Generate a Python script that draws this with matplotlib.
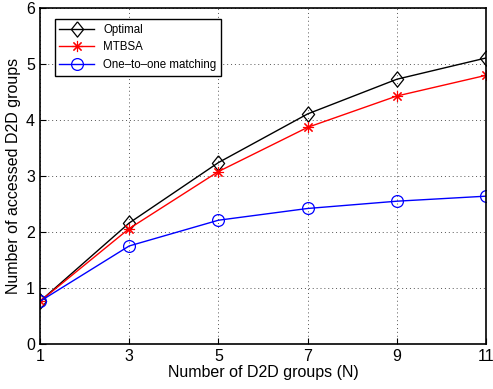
import matplotlib
matplotlib.use("Agg")
import matplotlib.pyplot as plt

plt.rcParams['font.family'] = ['Liberation Sans', 'DejaVu Sans']

groups = [1, 3, 5, 7, 9, 11]
optimal = [0.76, 2.16, 3.24, 4.11, 4.73, 5.11]
mtbsa = [0.76, 2.06, 3.08, 3.87, 4.43, 4.80]
one_to_one = [0.76, 1.75, 2.21, 2.42, 2.55, 2.64]

# matlab style markers
diamond = [(0, 1), (0.8, 0), (0, -1), (-0.8, 0), (0, 1)]
asterisk = (8, 2, 0)

fig = plt.figure(figsize=(4.93, 3.89), dpi=100)
ax = fig.add_axes([0.081, 0.116, 0.905, 0.863])

ax.plot(groups, optimal, color='black', marker=diamond, markersize=11, markerfacecolor='none',
        markeredgewidth=0.9, linewidth=1, label='Optimal')
ax.plot(groups, mtbsa, color='red', marker=asterisk, markersize=8, markeredgewidth=0.8,
        linewidth=1, label='MTBSA')
ax.plot(groups, one_to_one, color='blue', marker='o', markersize=8.5, markerfacecolor='none',
        markeredgewidth=0.9, linewidth=1, label='One\u2013to\u2013one matching')

ax.set_xlim(1, 11)
ax.set_ylim(0, 6)
ax.set_xticks(groups)
ax.set_yticks(range(0, 7))
ax.tick_params(direction='in', labelsize=11.5, length=4, top=False, right=False)
ax.grid(True, linestyle=(0, (1, 3)), color='#555555', linewidth=0.7)
for s in ax.spines.values():
    s.set_linewidth(1.2)

ax.set_xlabel('Number of D2D groups (N)', fontsize=11.5, labelpad=1)
ax.set_ylabel('Number of accessed D2D groups', fontsize=11.5, labelpad=4)

leg = ax.legend(loc='upper left', bbox_to_anchor=(0.02, 0.985), fontsize=8.3,
                fancybox=False, edgecolor='black', framealpha=1, handlelength=3,
                borderpad=0.4, labelspacing=0.5)
leg.get_frame().set_linewidth(1)

fig.savefig('out.png', dpi=100)
